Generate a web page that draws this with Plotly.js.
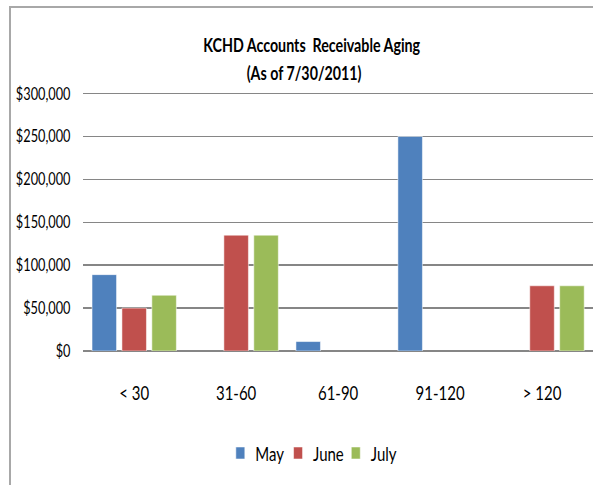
<!DOCTYPE html>
<html>
<head>
<meta charset="utf-8">
<script src="https://cdn.plot.ly/plotly-3.0.1.min.js"></script>
<style>
  html, body { margin: 0; padding: 0; width: 593px; height: 485px; overflow: hidden; background: #fff; }
  /* chart laid out wider, then narrowed horizontally to match the condensed look of the original */
  #chart { position: absolute; left: 0; top: 0; width: 791px; height: 485px;
           transform: scaleX(0.7497); transform-origin: 0 0; }
  #frame { position: absolute; left: 9px; top: 6px; width: 700px; height: 600px;
           border: 2px solid #a8a8a8; pointer-events: none; box-sizing: border-box; }
</style>
</head>
<body>
<div id="chart"></div>
<div id="frame"></div>
<script>
const categories = ["< 30", "31-60", "61-90", "91-120", "> 120"];
const may  = [89000, null, 11000, 250000, null];
const june = [50000, 135000, null, null, 76000];
const july = [65000, 135000, null, null, 76000];
const seriesNames = ["May", "June", "July"];
const yTickVals = [0, 50000, 100000, 150000, 200000, 250000, 300000];
const yTickText = ["$0", "$50,000", "$100,000", "$150,000", "$200,000", "$250,000", "$300,000"];
const titleLine1 = "KCHD Accounts  Receivable Aging";
const titleLine2 = "(As of 7/30/2011)";

const FONT = "Lato, 'Open Sans', sans-serif";
const colors = ["#4F81BD", "#C0504D", "#9BBB59"];
const seriesVals = [may, june, july];

const traces = seriesVals.map((vals, i) => ({
  type: "bar",
  name: seriesNames[i],
  x: categories,
  y: vals,
  marker: { color: colors[i], line: { color: "rgba(255,255,255,0.6)", width: 1 } },
  hoverinfo: "x+y+name"
}));

const layout = {
  width: 791, height: 485,
  margin: { l: 111, r: 0, t: 91, b: 134, pad: 0 },
  paper_bgcolor: "#fff", plot_bgcolor: "#fff",
  font: { family: FONT, color: "#000" },
  title: {
    text: "<b>" + titleLine1 + "</b>",
    xref: "container", x: 0.5257, xanchor: "center",
    yref: "container", y: 0.907, yanchor: "middle",
    font: { family: FONT, size: 19, color: "#000" }
  },
  annotations: [{
    text: "<b>" + titleLine2 + "</b>",
    xref: "paper", yref: "paper", x: 0.433, y: 1.073,
    xanchor: "center", yanchor: "middle", showarrow: false,
    font: { family: FONT, size: 19, color: "#000" }
  }],
  barmode: "group",
  bargap: 0.12,
  bargroupgap: 0.18,
  showlegend: true,
  legend: {
    orientation: "h",
    xref: "container", x: 0.526, xanchor: "center",
    yref: "container", y: 0.066, yanchor: "middle",
    font: { family: FONT, size: 20, color: "#000" },
    itemwidth: 30, tracegroupgap: 0,
    entrywidth: 32, entrywidthmode: "pixels"
  },
  xaxis: {
    type: "category",
    categoryorder: "array", categoryarray: categories,
    range: [-0.5, 4.5],
    ticks: "", showgrid: false, showline: false, zeroline: false,
    ticklabelstandoff: 28,
    tickfont: { family: FONT, size: 20, color: "#000" },
    fixedrange: true
  },
  yaxis: {
    range: [0, 303000],
    tickmode: "array", tickvals: yTickVals, ticktext: yTickText,
    ticks: "", showline: false,
    showgrid: true, gridcolor: "#868686", gridwidth: 1.5,
    zeroline: true, zerolinecolor: "#868686", zerolinewidth: 1.5,
    ticklabelstandoff: 16,
    tickfont: { family: FONT, size: 17, color: "#000" },
    fixedrange: true
  }
};

Plotly.newPlot("chart", traces, layout, { displayModeBar: false, staticPlot: true });
</script>
</body>
</html>
